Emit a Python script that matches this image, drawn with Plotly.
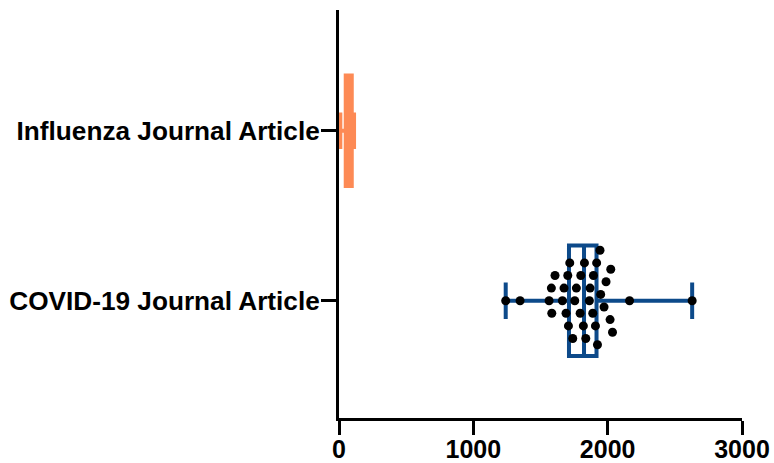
import numpy as np
import plotly.graph_objects as go

# Category labels (bottom to top)
categories = ["COVID-19 Journal Article", "Influenza Journal Article"]

# Individual COVID-19 article values
covid_values = [1241, 1348, 1564, 1581, 1584, 1608, 1663, 1675, 1690, 1703,
                1708, 1718, 1740, 1755, 1767, 1795, 1800, 1819, 1827, 1837,
                1864, 1869, 1889, 1894, 1909, 1918, 1924, 1943, 1948, 1973,
                1988, 2018, 2023, 2036, 2163, 2629]

# Five-number summaries: min, q1, median, q3, max
covid_summary = [1241, 1712, 1824, 1917, 2629]
influenza_summary = [10, 50, 75, 95, 112]

x_ticks = [0, 1000, 2000, 3000]

# Figure geometry
W, H = 774, 463
margin = dict(l=339, r=32, t=10, b=45)
x_range = [0, 3000]
y_range = [-0.69, 1.71]

ORANGE = "#FD8A55"
BLUE = "#0D4A8A"
TICK_FONT = dict(family="Liberation Sans, Arial, sans-serif", size=25,
                 color="black", weight="bold")
CAT_FONT = dict(TICK_FONT, size=26.2)

plot_w = W - margin["l"] - margin["r"]
plot_h = H - margin["t"] - margin["b"]
px_per_x = plot_w / (x_range[1] - x_range[0])
px_per_y = plot_h / (y_range[1] - y_range[0])


def swarm_offsets(values, diameter=12.0, step=6.3):
    """Greedy beeswarm: vertical offsets (data units) so dots stay apart."""
    placed = []
    out = [0.0] * len(values)
    cands = [0]
    for n in range(1, 60):
        cands += [n, -n]
    for i in np.argsort(values):
        xv = values[i] * px_per_x
        yv = 0.0
        for c in cands:
            yv = c * step
            if all((xv - a) ** 2 + (yv - b) ** 2 >= diameter ** 2 for a, b in placed):
                break
        placed.append((xv, yv))
        out[i] = yv / px_per_y
    return out


def box(pos, summary, line_color, fill):
    mn, q1, med, q3, mx = summary
    return go.Box(
        orientation="h", y=[pos], q1=[q1], median=[med], q3=[q3],
        lowerfence=[mn], upperfence=[mx], boxpoints=False,
        width=0.65, whiskerwidth=0.33,
        line=dict(color=line_color, width=4), fillcolor=fill,
        showlegend=False, hoverinfo="skip",
    )


fig = go.Figure()
fig.add_trace(box(1, influenza_summary, ORANGE, ORANGE))
fig.add_trace(box(0, covid_summary, BLUE, "rgba(0,0,0,0)"))

offs = swarm_offsets(covid_values)
fig.add_trace(go.Scatter(
    x=covid_values, y=[0 + o for o in offs], mode="markers",
    marker=dict(color="black", size=9, line=dict(width=0)),
    showlegend=False, cliponaxis=False,
))

fig.update_layout(
    width=W, height=H, margin=margin,
    paper_bgcolor="white", plot_bgcolor="white",
)
fig.update_xaxes(
    range=x_range, tickvals=x_ticks, ticktext=[str(t) for t in x_ticks],
    showline=True, linecolor="black", linewidth=3,
    ticks="outside", ticklen=14, tickwidth=3, tickcolor="black",
    tickfont=TICK_FONT, ticklabelstandoff=-7,
    showgrid=False, zeroline=False, automargin=False,
)
fig.update_yaxes(
    range=y_range, tickvals=[0, 1], ticktext=categories,
    showline=True, linecolor="black", linewidth=3,
    ticks="outside", ticklen=15, tickwidth=3, tickcolor="black",
    tickfont=CAT_FONT, ticklabelstandoff=-4,
    showgrid=False, zeroline=False, automargin=False,
)

fig.write_html("out.html")
